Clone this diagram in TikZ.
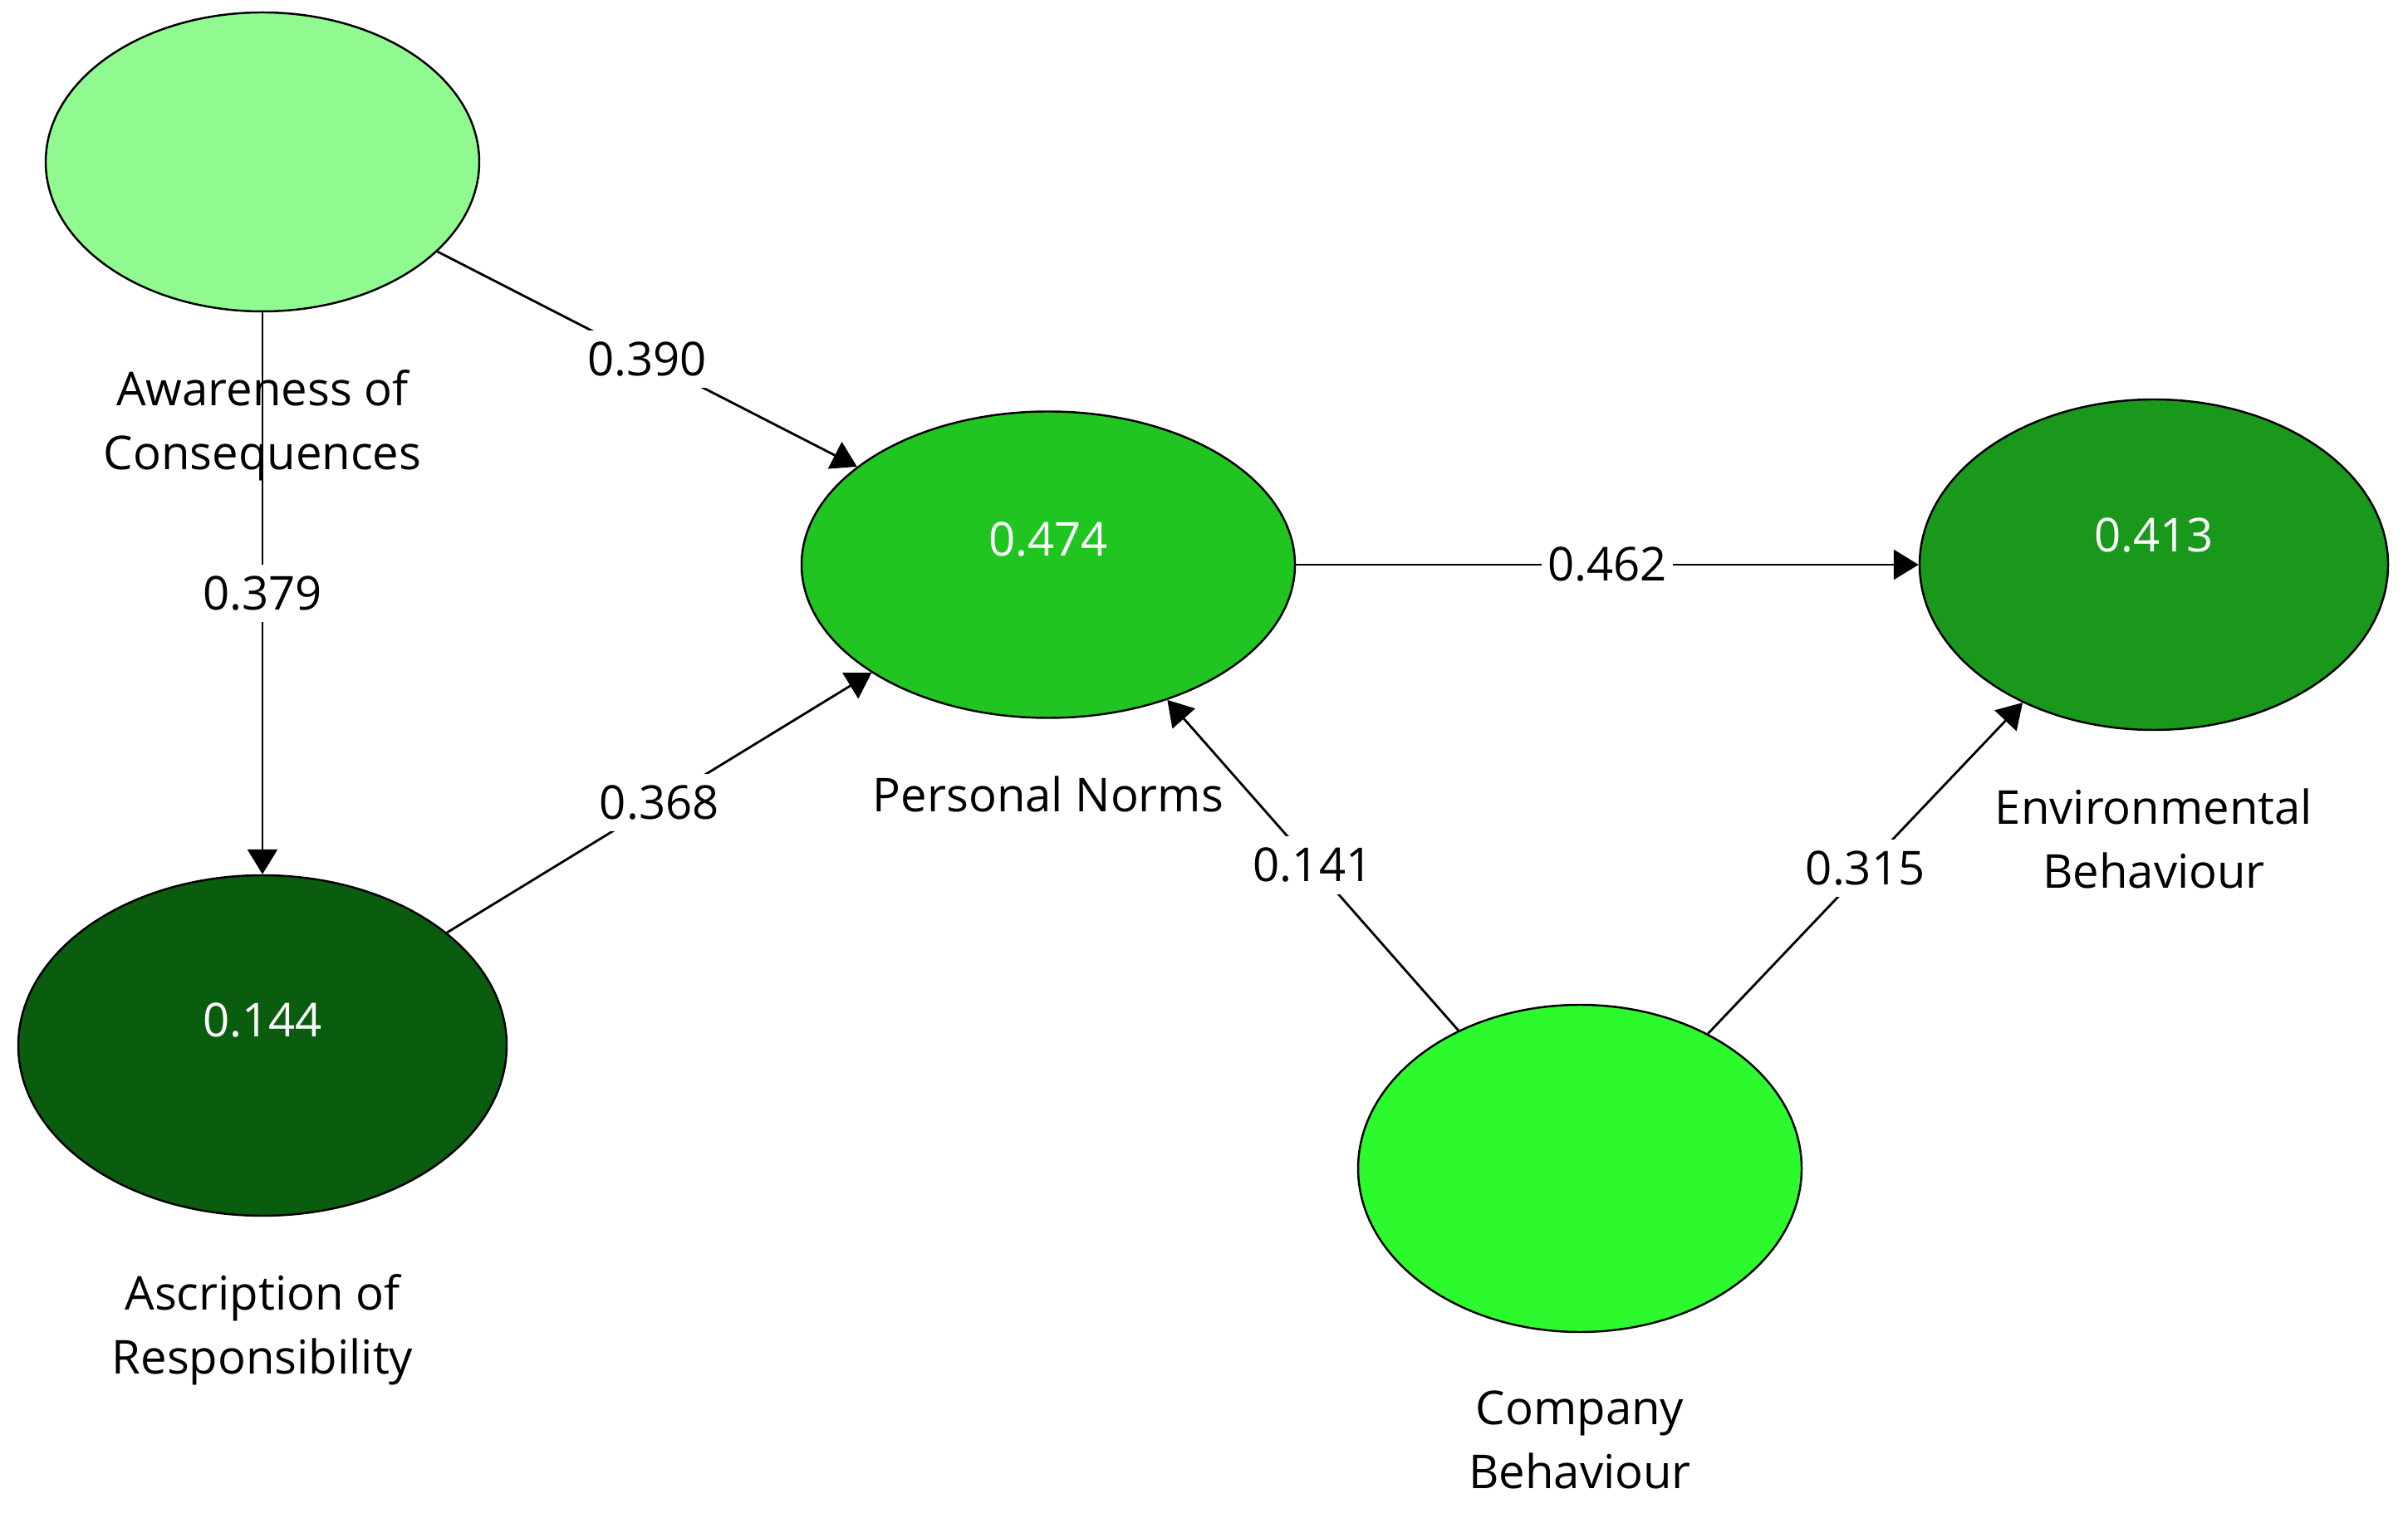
\documentclass[tikz,border=0pt]{standalone}
\usepackage{fontspec}
\setmainfont{Open Sans}
\usetikzlibrary{arrows.meta,positioning,shapes.geometric}
\definecolor{AC}{RGB}{144,250,144}
\definecolor{PN}{RGB}{33,197,33}
\definecolor{EB}{RGB}{25,152,28}
\definecolor{AR}{RGB}{10,92,14}
\definecolor{CB}{RGB}{45,250,45}
\tikzstyle{latent} = [ellipse, draw=black, line width=0.7pt, inner sep=0pt]
\tikzstyle{lvtext} = [align=center, inner sep=0pt, font=\fontsize{16}{22}\selectfont]
\tikzstyle{val} = [text=white, inner sep=0pt, font=\fontsize{16}{22}\selectfont]
\tikzstyle{coef} = [fill=white, inner sep=4pt, font=\fontsize{16}{22}\selectfont]
\begin{document}
\begin{tikzpicture}[>={Triangle[length=3mm,width=3.6mm]}, line width=0.8pt]
    \useasboundingbox (0,0) rectangle (28.99,18.33);
    \node[latent, fill=AC, minimum width=5.22cm, minimum height=3.60cm] (ac) at (3.16,16.38) {};
    \node[latent, fill=PN, minimum width=5.94cm, minimum height=3.69cm] (pn) at (12.62,11.53) {};
    \node[latent, fill=EB, minimum width=5.64cm, minimum height=3.98cm] (eb) at (25.93,11.53) {};
    \node[latent, fill=AR, minimum width=5.88cm, minimum height=4.10cm] (ar) at (3.16,5.74) {};
    \node[latent, fill=CB, minimum width=5.34cm, minimum height=3.94cm] (cb) at (19.02,4.26) {};

    \node[val] (pnv) at ([yshift=3mm]pn.center) {0.474};
    \node[val] (ebv) at ([yshift=3.5mm]eb.center) {0.413};
    \node[val] (arv) at ([yshift=3mm]ar.center) {0.144};

    \node[lvtext, below=0.68cm of ac] (acl) {Awareness of\\Consequences};
    \node[lvtext, below=0.68cm of pn] (pnl) {Personal Norms};
    \node[lvtext, below=0.68cm of eb] (ebl) {Environmental\\Behaviour};
    \node[lvtext, below=0.68cm of ar] (arl) {Ascription of\\Responsibility};
    \node[lvtext, below=0.68cm of cb] (cbl) {Company\\Behaviour};

    \draw [->] (ac) edge node[coef]{0.390} (pn);
    \draw [->] (ac) edge node[coef]{0.379} (ar);
    \draw [->] (ar) edge node[coef]{0.368} (pn);
    \draw [->] (pn) edge node[coef, inner sep=2pt]{0.462} (eb);
    \draw [->] (cb) edge node[coef]{0.141} (pn);
    \draw [->] (cb) edge node[coef]{0.315} (eb);
\end{tikzpicture}
\end{document}
